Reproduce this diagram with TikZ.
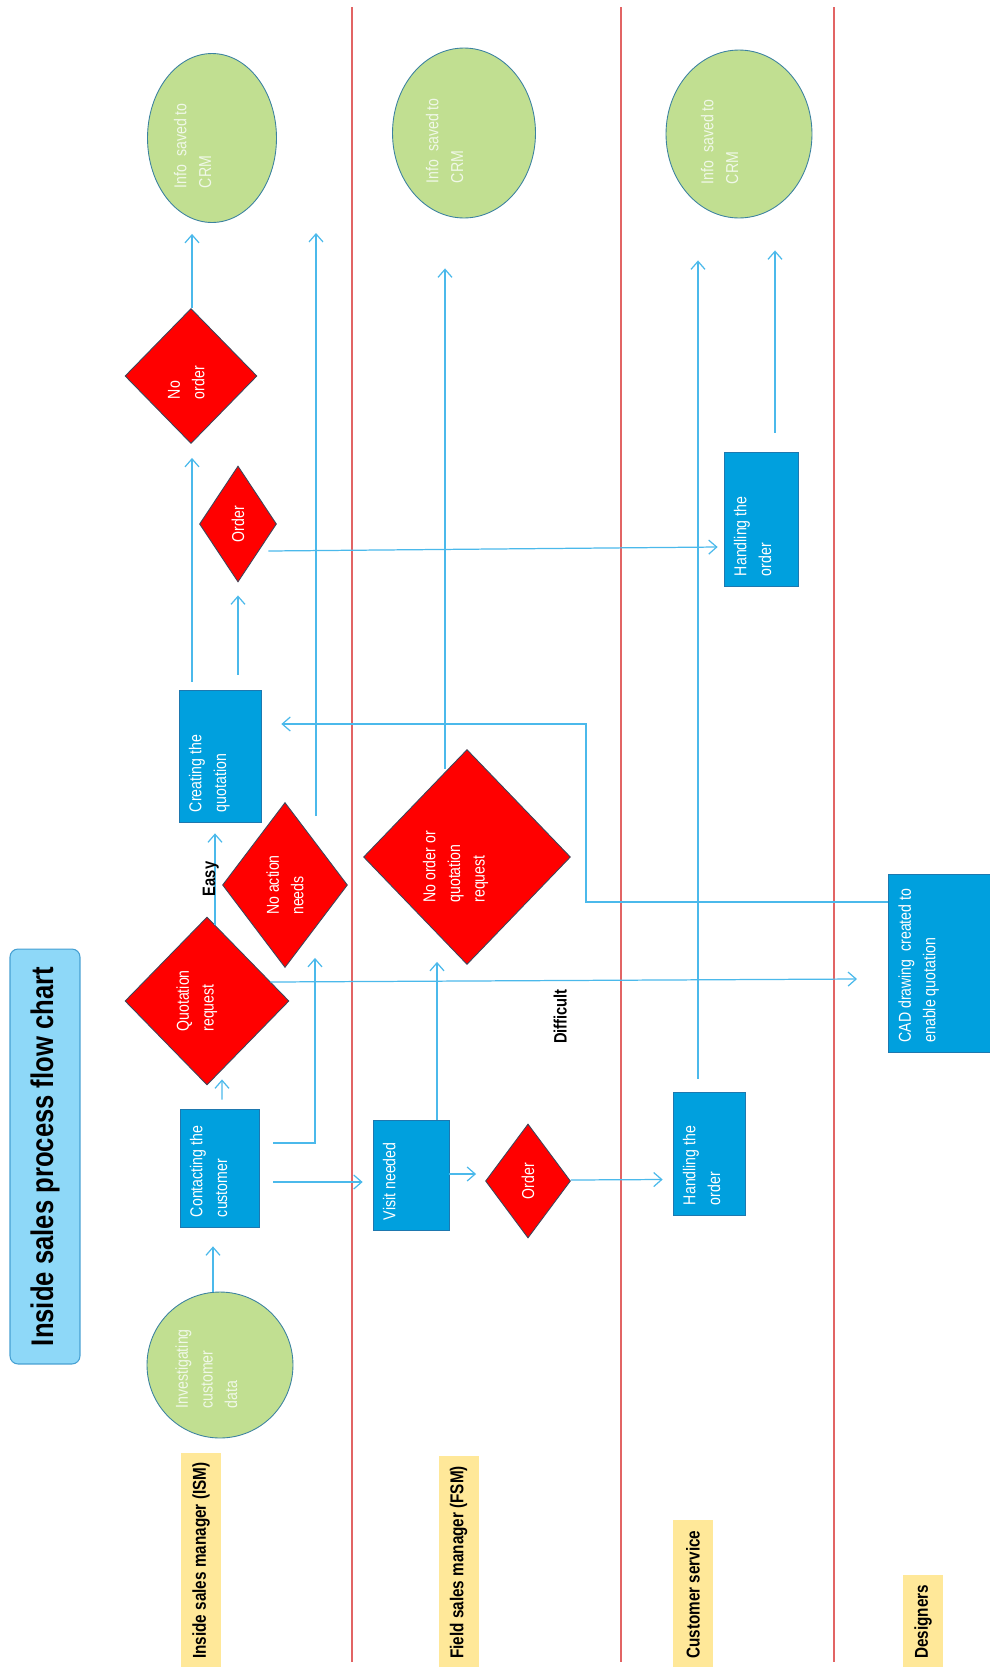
\documentclass[tikz,border=0pt]{standalone}
\usepackage{fontspec}
\setmainfont{Liberation Sans}[FakeStretch=0.82]
\usetikzlibrary{shapes.geometric,arrows.meta,calc}

\definecolor{lanered}{RGB}{226,100,100}
\definecolor{flowblue}{RGB}{75,185,235}
\definecolor{taskblue}{RGB}{0,160,222}
\definecolor{taskedge}{RGB}{30,120,175}
\definecolor{choicered}{RGB}{255,0,0}
\definecolor{choiceedge}{RGB}{60,70,90}
\definecolor{storegreen}{RGB}{193,223,145}
\definecolor{storeedge}{RGB}{60,130,160}
\definecolor{storetext}{RGB}{240,248,232}
\definecolor{titleblue}{RGB}{142,216,248}
\definecolor{titleedge}{RGB}{70,160,210}
\definecolor{lblyellow}{RGB}{255,232,153}

\newdimen\pxunit \pxunit=0.02cm
\newcommand{\boxtxt}[3]{\parbox[c][#2\pxunit][t]{#1\pxunit}{\raggedright #3}}
\newcommand{\nodefont}{\fontsize{9.8}{14}\selectfont}

\tikzset{
  task/.style={rotate=90, rectangle, fill=taskblue, draw=taskedge, line width=0.4pt,
    inner sep=0.2cm, text=white, font=\nodefont},
  choice/.style={rotate=90, diamond, fill=choicered, draw=choiceedge, line width=0.5pt,
    inner sep=1pt, text=white, font=\nodefont, align=left},
  store/.style={rotate=90, ellipse, fill=storegreen, draw=storeedge, line width=0.5pt,
    inner sep=1pt, text=storetext, font=\nodefont},
  lanelbl/.style={rotate=90, fill=lblyellow, anchor=west, inner xsep=0.2cm, inner ysep=0pt,
    minimum height=0.8cm, font=\bfseries\fontsize{10.6}{12}\selectfont},
  cond/.style={rotate=90, text=black, font=\bfseries\fontsize{10.2}{12}\selectfont},
  flow/.style={flowblue, line width=0.7pt, -{Straight Barb[length=0.16cm,width=0.28cm]}},
  lane/.style={draw=lanered, line width=0.9pt}
}

\begin{document}
\begin{tikzpicture}[x=0.02cm,y=-0.02cm]
	\useasboundingbox (0,0) rectangle (990,1667);
	\clip (0,0) rectangle (990,1667);

	\foreach \lx in {352,621,834}
		\draw[lane] (\lx,7) -- (\lx,1662);

	\node[rotate=90, rectangle, rounded corners=0.16cm, fill=titleblue, draw=titleedge, line width=0.6pt,
		minimum width=8.3cm, minimum height=1.4cm, font=\bfseries\fontsize{17.8}{20}\selectfont]
		(title) at (45,1156.5) {Inside sales process flow chart};

	\node[lanelbl] (ism) at (201,1669) {Inside sales manager (ISM)};
	\node[lanelbl] (fsm) at (458.5,1669) {Field sales manager (FSM)};
	\node[lanelbl] (cs) at (693,1669) {Customer service};
	\node[lanelbl] (des) at (923,1669) {Designers};

	\node[store, minimum width=2.92cm, minimum height=2.92cm] (inv) at (220,1365)
		{\boxtxt{87}{89}{Investigating\\customer\\data}};
	\node[store, minimum width=3.38cm, minimum height=2.58cm] (crmI) at (212,138)
		{\boxtxt{100}{76}{Info\ \ saved to\\CRM}};
	\node[store, minimum width=3.4cm, minimum height=2.86cm] (crmF) at (464,133)
		{\boxtxt{100}{76}{Info\ \ saved to\\CRM}};
	\node[store, minimum width=3.36cm, minimum height=2.92cm] (crmC) at (739,134)
		{\boxtxt{100}{76}{Info\ \ saved to\\CRM}};

	\node[task] (contact) at (219.5,1168) {\boxtxt{98}{59}{Contacting the\\customer}};
	\node[task] (quote) at (220,756) {\boxtxt{112}{62}{Creating the\\quotation}};
	\node[task] (visit) at (411,1175) {\boxtxt{90}{56}{Visit needed}};
	\node[task] (handleA) at (709,1153.5) {\boxtxt{103}{52}{Handling the\\order}};
	\node[task] (handleB) at (761,519) {\boxtxt{114}{54}{Handling the\\order}};
	\node[task, anchor=north] (cad) at (888,963.5)
		{\boxtxt{158}{100}{CAD drawing\ \ created to\\enable quotation}};

	\node[choice, minimum width=3.36cm, minimum height=3.28cm] (qreq) at (207,1001)
		{\boxtxt{61}{61}{Quotation\\request}};
	\node[choice, minimum width=3.3cm, minimum height=2.5cm] (noact) at (285,885) {No action\\needs};
	\node[choice, minimum width=4.3cm, minimum height=4.14cm] (noq) at (467,857)
		{\boxtxt{91}{88}{No order or\\quotation\\request}};
	\node[choice, minimum width=2.28cm, minimum height=1.7cm] (ordF) at (528,1181) {Order};
	\node[choice, minimum width=2.32cm, minimum height=1.54cm] (ordI) at (238,524) {Order};
	\node[choice, minimum width=2.7cm, minimum height=2.64cm] (noord) at (191,376)
		{\boxtxt{46}{46}{No\\order}};

	\coordinate (noactend) at (316,233);

	\path[flow] ($(inv.east)+(-7,0)$) edge ($(contact.west)+(-6.5,19)$)
		($(contact.east)+(2.5,-9)$) edge ($(qreq.west)+(15,-6)$)
		($(contact.south)+(14,14)$) edge ($(visit.north)+(-10,7)$)
		($(visit.east)+(26,0)$) edge ($(noq.west)+(-30,-3)$)
		($(noq.east)+(-22,20)$) edge ($(crmF.west)+(-19,50)$)
		($(visit.south)+(0,-1)$) edge ($(ordF.north)+(-9,-7)$)
		($(ordF.south)+(0,-1)$) edge ($(handleA.north)+(-10,26)$)
		($(handleA.east)+(-11,-13)$) edge ($(crmC.west)+(-41,42)$)
		($(quote.east)+(-28,-8)$) edge ($(noord.west)+(1,14)$)
		($(quote.east)+(18,-15)$) edge ($(ordI.west)+(0,13)$)
		($(ordI.south)+(-8.5,27)$) edge ($(handleB.north)+(-6,28)$)
		($(handleB.east)+(14,-19)$) edge ($(crmC.west)+(36,32)$)
		($(noord.east)+(1,0)$) edge ($(crmI.west)+(-20,11)$)
		($(noact.east)+(31,14)$) edge (noactend);

	\draw[flow] ($(contact.south)+(14,-25)$) -| ($(noact.west)+(30,-10)$);
	\draw[flow] ($(qreq.east)+(8,8)$) -- node[cond, anchor=base, inner sep=0pt] (easy) {Easy}
		($(quote.west)+(-5,11)$);
	\draw[flow] ($(qreq.south)+(-19,-19)$) -- node[cond, pos=0.494, anchor=east, inner sep=0.16cm] (difficult) {Difficult}
		($(cad.north)+(-31,15.5)$);
	\draw[flow] ($(cad.north)+(0,-61.5)$) -- ++(-302,0) |- ($(quote.south)+(20,-32)$);
\end{tikzpicture}
\end{document}
